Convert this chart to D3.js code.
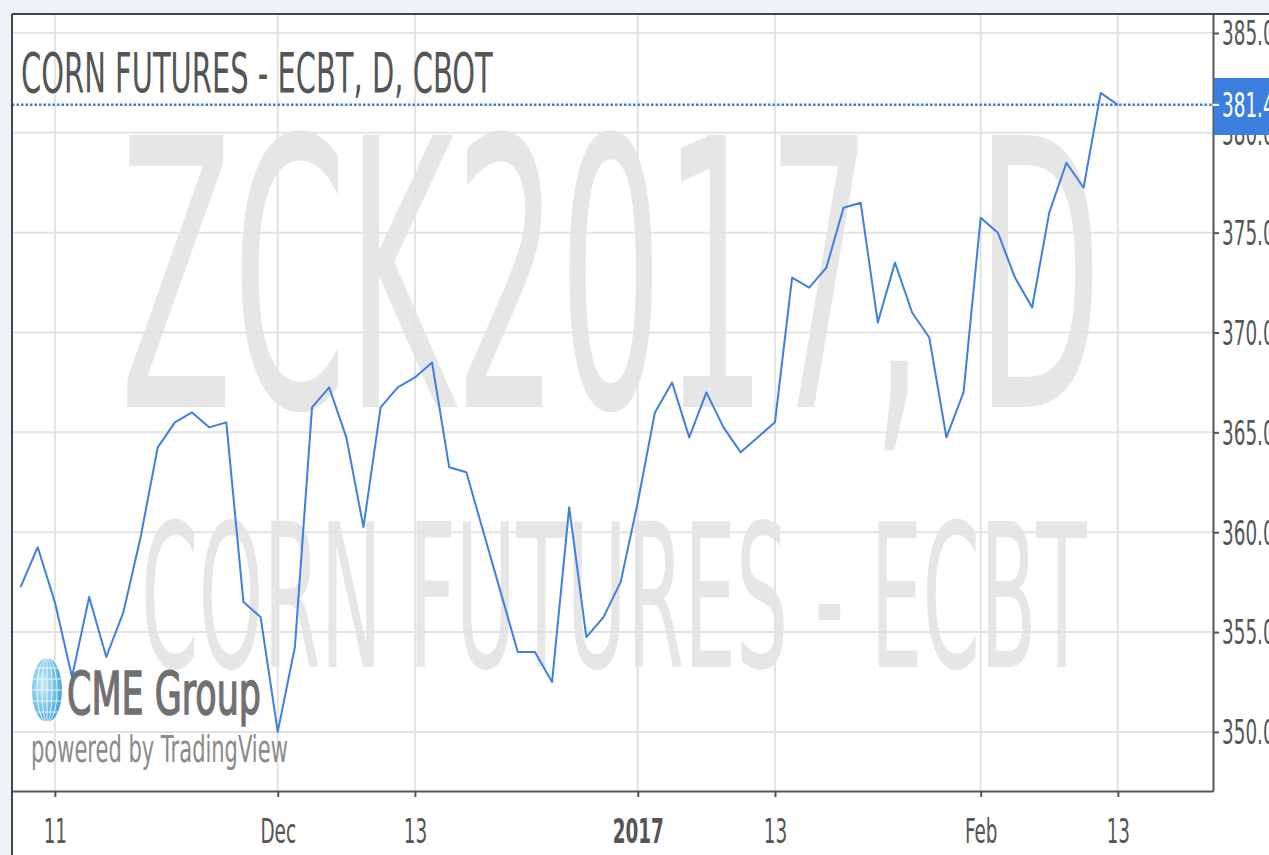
<!DOCTYPE html>
<html><head><meta charset="utf-8">
<script src="https://cdn.jsdelivr.net/npm/d3@7"></script>
<style>html,body{margin:0;padding:0;background:#eef2f6;overflow:hidden}svg{display:block}</style>
</head><body><svg id="c" width="1269" height="855"></svg>
<script>
const dates = ["2016-11-09","2016-11-10","2016-11-11","2016-11-14","2016-11-15","2016-11-16","2016-11-17","2016-11-18","2016-11-21","2016-11-22","2016-11-23","2016-11-25","2016-11-28","2016-11-29","2016-11-30",
"2016-12-01","2016-12-02","2016-12-05","2016-12-06","2016-12-07","2016-12-08","2016-12-09","2016-12-12","2016-12-13","2016-12-14","2016-12-15","2016-12-16","2016-12-19","2016-12-20","2016-12-21","2016-12-22","2016-12-23","2016-12-27","2016-12-28","2016-12-29","2016-12-30",
"2017-01-03","2017-01-04","2017-01-05","2017-01-06","2017-01-09","2017-01-10","2017-01-11","2017-01-12","2017-01-13","2017-01-17","2017-01-18","2017-01-19","2017-01-20","2017-01-23","2017-01-24","2017-01-25","2017-01-26","2017-01-27","2017-01-30","2017-01-31",
"2017-02-01","2017-02-02","2017-02-03","2017-02-06","2017-02-07","2017-02-08","2017-02-09","2017-02-10","2017-02-13"];
const prices = [357.25,359.25,356.5,352.75,356.75,353.75,356.0,359.75,364.25,365.5,366.0,365.25,365.5,356.5,355.75,
350.0,354.25,366.25,367.25,364.75,360.25,366.25,367.25,367.75,368.5,363.25,363.0,360.0,357.0,354.0,354.0,352.5,361.25,354.75,355.75,357.5,
361.5,366.0,367.5,364.75,367.0,365.25,364.0,364.75,365.5,372.75,372.25,373.25,376.25,376.5,370.5,373.5,371.0,369.75,364.75,367.0,
375.75,375.0,372.75,371.25,376.0,378.5,377.25,382.0,381.4];
const yTickValues = [350,355,360,365,370,375,380,385];
const xTickDates = ["2016-11-11","2016-12-01","2016-12-13","2017-01-03","2017-01-13","2017-02-01","2017-02-13"];
const xTickLabels = ["11","Dec","13","2017","13","Feb","13"];
const lastPrice = 381.4;
const titleText = "CORN FUTURES - ECBT, D, CBOT";
const watermarkSymbol = "ZCK2017, D";
const watermarkName = "CORN FUTURES - ECBT";

const W = 1269, H = 855;
const L = 12, R = 1213, T = 14, B = 791;
const FONT = "DejaVu Sans";
const svg = d3.select("#c");

const x = d3.scaleLinear().domain([-0.5, 69.55]).range([L, R]);
const y = d3.scaleLinear().domain([347.04, 385.95]).range([B, T]);
const blue = "#3f7fe0";

svg.append("rect").attr("width", W).attr("height", H).attr("fill", "#eef2f6");
svg.append("rect").attr("x", L).attr("y", T).attr("width", W - L).attr("height", H - T).attr("fill", "#fff");

const defs = svg.append("defs");
defs.append("clipPath").attr("id", "plot").append("rect").attr("x", L).attr("y", T).attr("width", R - L).attr("height", B - T);
const grad = defs.append("radialGradient").attr("id", "globe").attr("cx", "35%").attr("cy", "40%").attr("r", "70%");
grad.append("stop").attr("offset", "0%").attr("stop-color", "#c8ecf8");
grad.append("stop").attr("offset", "100%").attr("stop-color", "#3aa6d6");

function fitText(sel, str, px, py, fs, w, opts) {
  const t = sel.append("text").text(str).attr("font-family", FONT).attr("font-size", fs)
    .attr("fill", opts.fill).attr("font-weight", opts.weight || "normal");
  if (opts.stroke) t.attr("stroke", opts.fill).attr("stroke-width", opts.stroke);
  const len = t.node().getComputedTextLength();
  t.attr("transform", `translate(${px},${py}) scale(${w / len},1)`);
  return t;
}

const plot = svg.append("g").attr("clip-path", "url(#plot)");

// watermarks
fitText(plot, watermarkSymbol, 120, 407, 373, 982, {fill: "#e6e6e6"});
fitText(plot, watermarkName, 141, 667, 199, 946, {fill: "#e6e6e6"});

// grid
const xTickIdx = xTickDates.map(d => dates.indexOf(d));
plot.selectAll("line.hg").data(yTickValues).join("line")
  .attr("x1", L).attr("x2", R).attr("y1", d => y(d)).attr("y2", d => y(d))
  .attr("stroke", "#e3e3e3").attr("stroke-width", 2);
plot.selectAll("line.vg").data(xTickIdx).join("line")
  .attr("y1", T).attr("y2", B).attr("x1", d => x(d)).attr("x2", d => x(d))
  .attr("stroke", "#e3e3e3").attr("stroke-width", 2);

// title
fitText(svg, titleText, 21, 92, 55, 472, {fill: "#555"});

// CME logo
const logo = svg.append("g");
logo.append("ellipse").attr("cx", 47).attr("cy", 690).attr("rx", 15).attr("ry", 32).attr("fill", "url(#globe)");
[5, 10].forEach(r => logo.append("ellipse").attr("cx", 47).attr("cy", 690).attr("rx", r).attr("ry", 32)
  .attr("fill", "none").attr("stroke", "#fff").attr("stroke-width", 1).attr("opacity", 0.8));
logo.append("line").attr("x1", 47).attr("x2", 47).attr("y1", 658).attr("y2", 722).attr("stroke", "#fff").attr("opacity", 0.8);
[-22, -11, 0, 11, 22].forEach(dy => {
  const hw = 15 * Math.sqrt(1 - (dy / 32) ** 2);
  logo.append("line").attr("x1", 47 - hw).attr("x2", 47 + hw).attr("y1", 690 + dy).attr("y2", 690 + dy)
    .attr("stroke", "#fff").attr("stroke-width", 1).attr("opacity", 0.8);
});
fitText(logo, "CME Group", 67, 714, 59, 194, {fill: "#707070", stroke: 1.6});
fitText(logo, "powered by TradingView", 31, 762, 38, 257, {fill: "#8a8a8a"});

// last price dotted line
plot.append("line").attr("x1", L).attr("x2", R).attr("y1", y(lastPrice)).attr("y2", y(lastPrice))
  .attr("stroke", blue).attr("stroke-width", 2.5).attr("stroke-dasharray", "2.5,2");

// price line
plot.append("path").datum(prices)
  .attr("d", d3.line().x((d, i) => x(i)).y(d => y(d)))
  .attr("fill", "none").attr("stroke", blue).attr("stroke-width", 2).attr("stroke-linejoin", "round");

// axes
const SX = 0.557, FS = 33;
const yAxis = svg.append("g").attr("transform", `translate(${R},0)`)
  .call(d3.axisRight(y).tickValues(yTickValues).tickSize(6).tickSizeOuter(0).tickFormat(d3.format(".2f")));
yAxis.select(".domain").attr("stroke", "#555").attr("stroke-width", 2);
yAxis.selectAll(".tick line").attr("stroke", "#555").attr("stroke-width", 2);
yAxis.selectAll(".tick text").attr("x", 0).attr("dy", "0.36em").attr("font-family", FONT).attr("font-size", FS)
  .attr("fill", "#555").attr("transform", `translate(9,0) scale(${SX},1)`);

const xAxis = svg.append("g").attr("transform", `translate(0,${B})`)
  .call(d3.axisBottom(x).tickValues(xTickIdx).tickSize(6).tickSizeOuter(0).tickFormat((d, i) => xTickLabels[i]));
xAxis.select(".domain").attr("stroke", "#555").attr("stroke-width", 2);
xAxis.selectAll(".tick line").attr("stroke", "#555").attr("stroke-width", 2);
xAxis.selectAll(".tick text").attr("y", 0).attr("dy", 0).attr("font-family", FONT).attr("font-size", FS)
  .attr("fill", "#555").attr("font-weight", (d, i) => xTickLabels[i] === "2017" ? "bold" : "normal")
  .attr("transform", `translate(0,52) scale(${SX},1)`);

// plot frame (top & left)
svg.append("line").attr("x1", L).attr("x2", W).attr("y1", T).attr("y2", T).attr("stroke", "#444").attr("stroke-width", 2);
svg.append("line").attr("x1", L).attr("x2", L).attr("y1", T).attr("y2", H).attr("stroke", "#444").attr("stroke-width", 2);

// last price label
const lp = svg.append("g");
lp.append("rect").attr("x", R + 1).attr("y", 78).attr("width", W - R).attr("height", 57).attr("fill", "#3d7fde");
lp.append("line").attr("x1", R).attr("x2", R + 6).attr("y1", y(lastPrice)).attr("y2", y(lastPrice)).attr("stroke", "#fff").attr("stroke-width", 2);
lp.append("text").text(d3.format(".2f")(lastPrice)).attr("font-family", FONT).attr("font-size", FS).attr("fill", "#fff")
  .attr("dy", "0.36em").attr("transform", `translate(${R + 9},${y(lastPrice)}) scale(${SX},1)`);
</script></body></html>
